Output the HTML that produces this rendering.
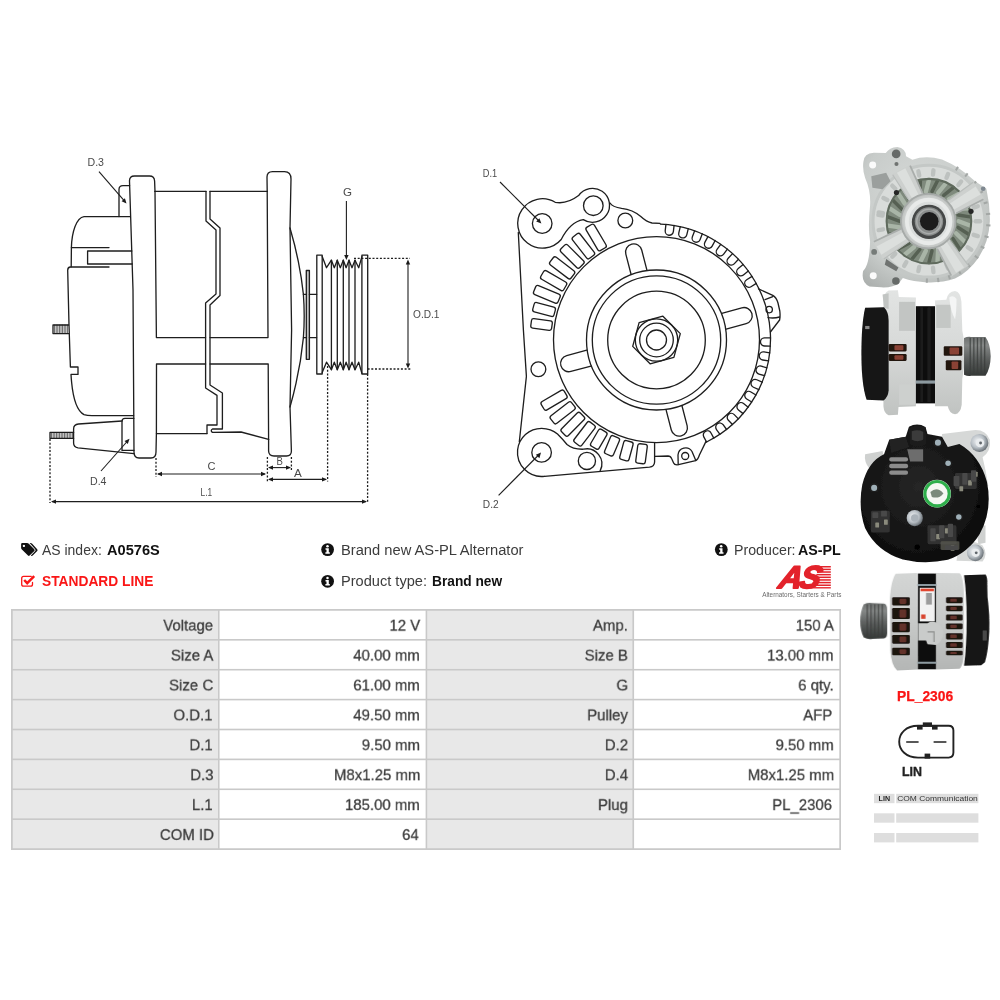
<!DOCTYPE html>
<html lang="en">
<head>
<meta charset="utf-8">
<title>A0576S - Brand new AS-PL Alternator</title>
<style>
html,body{margin:0;padding:0;background:#fff;}
body{width:1000px;height:1000px;position:relative;overflow:hidden;font-family:"Liberation Sans",sans-serif;color:#333;}
.abs{position:absolute;white-space:nowrap;line-height:1;will-change:transform;}
.abs span{display:inline-block;transform-origin:0 50%;}
svg.draw{position:absolute;left:0;top:0;width:1000px;height:1000px;will-change:transform;}
.tw{position:absolute;left:11.37px;top:608.87px;width:999px;height:290px;transform:scale(0.8308);transform-origin:0 0;will-change:transform;}
table.spec{border-collapse:collapse;table-layout:fixed;width:997px;font-size:17.8px;box-sizing:border-box;}
table.spec td{box-sizing:border-box;border:2px solid #c9c9c9;height:36px;padding:4.7px 7.4px 0 0;text-align:right;color:#3c3c3c;-webkit-text-stroke:0.3px #3c3c3c;line-height:1;white-space:nowrap;overflow:hidden;}
table.spec td.l{background:#e8e8e8;}
table.spec td.v{background:#fff;}
table.spec td span{display:inline-block;transform:scaleX(1.012);transform-origin:100% 50%;}
.hd{font-size:15px;color:#3a3a3a;}
.hd b{color:#111;}
.red{color:#f01818;font-weight:bold;}
</style>
</head>
<body>
<svg class="draw" viewBox="0 0 1000 1000" width="1000" height="1000">
<g id="side-view">
<g fill="none" stroke="#1e1e1e" stroke-width="1.32" stroke-linejoin="round" stroke-linecap="round">
<path d="M155 191.4 L154.6 181 Q154.4 176 149.5 176 L134.5 176 Q129.4 176 129.5 181 L133 290 L134 452 Q134 458 139 458 L151 458 Q156 458 156 452 L156.4 433.6"/>
<path d="M119 216.6 L119 189.5 Q119 185.6 123 185.6 L129.6 185.6"/>
<path d="M130.4 216.6 L84 216.6 C76.5 217.5 71.8 232 71.4 247.6 L71.2 266.8"/>
<path d="M71.4 247.6 L109 247.6"/>
<path d="M131.8 251 L87.6 251 L87.6 264 L132.2 264"/>
<path d="M109 267 L70.5 267 Q67.6 267.2 67.7 270.5 L69 325 L70.4 367 L78 367 L78 374.4 L71 374.4 C72 392 75 410 84 414.6 Q87 415.6 92 415.6 L133.6 415.6"/>
<path d="M68.6 325 L53 325 L53 333.6 L68.8 333.6"/>
<path d="M54.6 325V333.6M56.2 325V333.6M57.8 325V333.6M59.4 325V333.6M61 325V333.6M62.6 325V333.6M64.2 325V333.6M65.8 325V333.6M67.4 325V333.6" stroke-width="0.7"/>
<path d="M133.8 418.4 L125 418.4 Q122 418.4 122 421.5 L122 450.4 L134 450.4"/>
<path d="M122 421 L78.5 424 Q73.6 424.4 73.6 429 L73.6 443 Q73.6 447.2 78 447.8 L134 453.6"/>
<path d="M73.6 432.4 L50 432.4 L50 438.4 L73.6 438.4"/>
<path d="M51.6 432.4V438.4M53.2 432.4V438.4M54.8 432.4V438.4M56.4 432.4V438.4M58 432.4V438.4M59.6 432.4V438.4M61.2 432.4V438.4M62.8 432.4V438.4M64.4 432.4V438.4M66 432.4V438.4M67.6 432.4V438.4M69.2 432.4V438.4M70.8 432.4V438.4M72.4 432.4V438.4" stroke-width="0.7"/>
<path d="M155 191.4 L206 191.4"/>
<path d="M210 191.4 L267.2 191.4"/>
<path d="M155 191.4 L156.4 337.6 L205.6 337.6"/>
<path d="M210 337.6 L268 337.6 L267.2 191.4"/>
<path d="M205.6 364 L156.5 364 L156.4 433.6 L207 433.6"/>
<path d="M210 364 L268.2 364 L268.6 439.4"/>
<path d="M206 191.4 L206 221 L216 230 L216 294 L205.6 303 L205.6 388 L217 395.4 L217 425 L207 425 L207 433.6"/>
<path d="M210 191.4 L210 219 L220 228 L220 295.4 L210 305 L210 385 L222.4 393 L222.4 429 L212.5 429 Q210 430.6 212.5 432.4 L241 432 L268.6 439.4"/>
<path d="M268.6 439.4 L268.6 451 Q268.8 456 274 456 L286.5 456 Q291.4 456 291.4 451 L290 407 L291.6 330 L290 228 L291 179 Q291 171.6 284.5 171.6 L272.5 171.6 Q267 171.6 267 177 L267.2 191.4"/>
<path d="M290 228 Q300 262 303.4 294.4 Q305 316 303.4 337.6 Q300 372 290 407"/>
<rect x="306.3" y="270.5" width="3.1" height="88.8" fill="#c4c4c4"/>
<path d="M303.4 294.4 L306.4 294.4 M309.4 294.4 L316.6 294.4 M303.4 337.6 L306.4 337.6 M309.4 337.6 L316.6 337.6"/>
<path d="M322.2 255.2 L316.8 255.2 L316.8 374 L322.2 374 Z"/>
<path d="M361.9 255.2 L367.7 255.2 L367.7 374 L361.9 374 Z"/>
<path d="M322.2 256.6 L326.5 267.7 L331.4 260.2 L334.3 267.7 L337.3 260.2 L340.3 267.7 L343.3 260.2 L346.1 267.7 L349.0 260.2 L352.0 267.7 L355.0 260.2 L358.7 267.7 L361.9 256.6"/>
<path d="M322.2 372.4 L326.5 362.2 L331.4 369.7 L334.3 362.2 L337.3 369.7 L340.3 362.2 L343.3 369.7 L346.1 362.2 L349.0 369.7 L352.0 362.2 L355.0 369.7 L358.7 362.2 L361.9 373.4"/>
<path d="M331.4 260.2 L331.4 369.7"/>
<path d="M337.3 260.2 L337.3 369.7"/>
<path d="M343.3 260.2 L343.3 369.7"/>
<path d="M349.0 260.2 L349.0 369.7"/>
<path d="M355.0 260.2 L355.0 369.7"/>
</g>
<g fill="none" stroke="#1e1e1e" stroke-width="1.3" stroke-dasharray="2 1.7">
<path d="M50 439 V503"/>
<path d="M156 458 V477"/>
<path d="M267.4 457 V481.5"/>
<path d="M291.4 457 V470"/>
<path d="M327.6 366 V481.5"/>
<path d="M367.6 374 V503.5"/>
<path d="M354 258.4 H410"/>
<path d="M367.6 369 H411"/>
</g>
<g fill="none" stroke="#1e1e1e" stroke-width="1.1">
<path d="M52 501.6 H366"/>
<path d="M158 474 H265"/>
<path d="M269 467.6 H290"/>
<path d="M269 479.4 H326"/>
<path d="M408 262 V366"/>
<path d="M346.4 201 V256"/>
<path d="M99 171.6 L125 201.6"/>
<path d="M101 471 L128 440.5"/>
</g>
<g fill="#1a1a1a" stroke="none">
<path d="M51.0 501.6 L56.0 499.4 L56.0 503.8 Z"/>
<path d="M367.0 501.6 L362.0 503.8 L362.0 499.4 Z"/>
<path d="M157.0 474.0 L162.0 471.8 L162.0 476.2 Z"/>
<path d="M266.0 474.0 L261.0 476.2 L261.0 471.8 Z"/>
<path d="M268.0 467.6 L273.0 465.4 L273.0 469.8 Z"/>
<path d="M291.0 467.6 L286.0 469.8 L286.0 465.4 Z"/>
<path d="M268.0 479.4 L273.0 477.2 L273.0 481.6 Z"/>
<path d="M327.0 479.4 L322.0 481.6 L322.0 477.2 Z"/>
<path d="M408.0 259.5 L410.2 264.5 L405.8 264.5 Z"/>
<path d="M408.0 368.5 L405.8 363.5 L410.2 363.5 Z"/>
<path d="M346.4 260.0 L344.2 255.0 L348.6 255.0 Z"/>
<path d="M126.5 203.5 L121.6 201.2 L124.9 198.3 Z"/>
<path d="M129.5 438.8 L127.8 444.0 L124.5 441.1 Z"/>
</g>
<g font-family="'Liberation Sans', sans-serif" font-size="11.4" fill="#4a4a4a">
<text x="87.5" y="166.2" textLength="16.5" lengthAdjust="spacingAndGlyphs">D.3</text>
<text x="90" y="485.2" textLength="16.5" lengthAdjust="spacingAndGlyphs">D.4</text>
<text x="343" y="195.6" textLength="9" lengthAdjust="spacingAndGlyphs">G</text>
<text x="413" y="317.8" textLength="26.5" lengthAdjust="spacingAndGlyphs">O.D.1</text>
<text x="207.5" y="470.4" textLength="8" lengthAdjust="spacingAndGlyphs">C</text>
<text x="276.4" y="465.2" textLength="6.4" lengthAdjust="spacingAndGlyphs">B</text>
<text x="294" y="477" textLength="7.8" lengthAdjust="spacingAndGlyphs">A</text>
<text x="200.6" y="495.6" textLength="11.6" lengthAdjust="spacingAndGlyphs">L.1</text>
</g>
</g>
<g id="front-view">
<g fill="none" stroke="#1e1e1e" stroke-width="1.32" stroke-linejoin="round" stroke-linecap="round">
<circle cx="656.5" cy="340.0" r="10"/>
<circle cx="656.5" cy="340.0" r="16.8"/>
<circle cx="656.5" cy="340.0" r="21.2"/>
<circle cx="656.5" cy="340.0" r="48.8"/>
<circle cx="656.5" cy="340.0" r="64.2"/>
<circle cx="656.5" cy="340.0" r="70"/>
<circle cx="656.5" cy="339.7" r="103"/>
<path d="M662.9 316.2 L680.3 333.6 L673.9 357.4 L650.1 363.8 L632.7 346.4 L639.1 322.6 Z"/>
<path d="M70.0 -8.2 L90.8 -8.2 A8.2 8.2 0 0 1 90.8 8.2 L70.0 8.2" transform="translate(656.5 340.0) rotate(-15.5)"/>
<path d="M70.0 -8.2 L90.8 -8.2 A8.2 8.2 0 0 1 90.8 8.2 L70.0 8.2" transform="translate(656.5 340.0) rotate(-104.5)"/>
<path d="M70.0 -8.2 L90.8 -8.2 A8.2 8.2 0 0 1 90.8 8.2 L70.0 8.2" transform="translate(656.5 340.0) rotate(165.0)"/>
<path d="M70.0 -8.2 L90.8 -8.2 A8.2 8.2 0 0 1 90.8 8.2 L70.0 8.2" transform="translate(656.5 340.0) rotate(75.5)"/>
<rect x="105.5" y="-4.8" width="21.0" height="9.6" rx="2.2" ry="2.2" transform="translate(656.5 340.0) rotate(187.7)"/>
<rect x="105.5" y="-4.8" width="22.0" height="9.6" rx="2.2" ry="2.2" transform="translate(656.5 340.0) rotate(195.2)"/>
<rect x="105.5" y="-4.8" width="26.5" height="9.6" rx="2.2" ry="2.2" transform="translate(656.5 340.0) rotate(202.6)"/>
<rect x="105.5" y="-4.8" width="26.5" height="9.6" rx="2.2" ry="2.2" transform="translate(656.5 340.0) rotate(210.0)"/>
<rect x="105.5" y="-4.8" width="26.5" height="9.6" rx="2.2" ry="2.2" transform="translate(656.5 340.0) rotate(217.4)"/>
<rect x="105.5" y="-4.8" width="26.5" height="9.6" rx="2.2" ry="2.2" transform="translate(656.5 340.0) rotate(224.8)"/>
<rect x="105.5" y="-4.8" width="27.0" height="9.6" rx="2.2" ry="2.2" transform="translate(656.5 340.0) rotate(232.1)"/>
<rect x="105.5" y="-4.8" width="27.0" height="9.6" rx="2.2" ry="2.2" transform="translate(656.5 340.0) rotate(239.5)"/>
<rect x="105.5" y="-4.8" width="26.5" height="9.6" rx="2.2" ry="2.2" transform="translate(656.5 340.0) rotate(149.6)"/>
<rect x="105.5" y="-4.8" width="26.5" height="9.6" rx="2.2" ry="2.2" transform="translate(656.5 340.0) rotate(142.2)"/>
<rect x="105.5" y="-4.8" width="26.5" height="9.6" rx="2.2" ry="2.2" transform="translate(656.5 340.0) rotate(134.8)"/>
<rect x="105.5" y="-4.8" width="25.5" height="9.6" rx="2.2" ry="2.2" transform="translate(656.5 340.0) rotate(127.5)"/>
<rect x="105.0" y="-4.8" width="19.5" height="9.6" rx="2.2" ry="2.2" transform="translate(656.5 340.0) rotate(120.2)"/>
<rect x="105.0" y="-4.8" width="19.5" height="9.6" rx="2.2" ry="2.2" transform="translate(656.5 340.0) rotate(112.8)"/>
<rect x="105.0" y="-4.8" width="19.5" height="9.6" rx="2.2" ry="2.2" transform="translate(656.5 340.0) rotate(105.2)"/>
<rect x="105.0" y="-4.8" width="19.5" height="9.6" rx="2.2" ry="2.2" transform="translate(656.5 340.0) rotate(97.5)"/>
<path d="M115.9 -4.1 L109.6 -4.1 A4.1 4.1 0 0 0 109.6 4.1 L115.9 4.1" transform="translate(656.5 340.0) rotate(-83.3)"/>
<path d="M115.7 -4.1 L109.4 -4.1 A4.1 4.1 0 0 0 109.4 4.1 L115.7 4.1" transform="translate(656.5 340.0) rotate(-76.1)"/>
<path d="M115.6 -4.1 L109.3 -4.1 A4.1 4.1 0 0 0 109.3 4.1 L115.6 4.1" transform="translate(656.5 340.0) rotate(-68.7)"/>
<path d="M115.4 -4.1 L109.1 -4.1 A4.1 4.1 0 0 0 109.1 4.1 L115.4 4.1" transform="translate(656.5 340.0) rotate(-61.5)"/>
<path d="M115.2 -4.1 L108.9 -4.1 A4.1 4.1 0 0 0 108.9 4.1 L115.2 4.1" transform="translate(656.5 340.0) rotate(-54.1)"/>
<path d="M115.0 -4.1 L108.7 -4.1 A4.1 4.1 0 0 0 108.7 4.1 L115.0 4.1" transform="translate(656.5 340.0) rotate(-46.6)"/>
<path d="M114.8 -4.1 L108.5 -4.1 A4.1 4.1 0 0 0 108.5 4.1 L114.8 4.1" transform="translate(656.5 340.0) rotate(-39.0)"/>
<path d="M114.7 -4.1 L108.4 -4.1 A4.1 4.1 0 0 0 108.4 4.1 L114.7 4.1" transform="translate(656.5 340.0) rotate(-31.6)"/>
<path d="M114.0 -4.1 L108.1 -4.1 A4.1 4.1 0 0 0 108.1 4.1 L114.0 4.1" transform="translate(656.5 340.0) rotate(1.0)"/>
<path d="M113.9 -4.1 L108.0 -4.1 A4.1 4.1 0 0 0 108.0 4.1 L113.9 4.1" transform="translate(656.5 340.0) rotate(8.5)"/>
<path d="M113.8 -4.1 L107.9 -4.1 A4.1 4.1 0 0 0 107.9 4.1 L113.8 4.1" transform="translate(656.5 340.0) rotate(16.2)"/>
<path d="M113.7 -4.1 L107.8 -4.1 A4.1 4.1 0 0 0 107.8 4.1 L113.7 4.1" transform="translate(656.5 340.0) rotate(23.8)"/>
<path d="M113.6 -4.1 L107.7 -4.1 A4.1 4.1 0 0 0 107.7 4.1 L113.6 4.1" transform="translate(656.5 340.0) rotate(31.0)"/>
<path d="M113.6 -4.1 L107.7 -4.1 A4.1 4.1 0 0 0 107.7 4.1 L113.6 4.1" transform="translate(656.5 340.0) rotate(38.3)"/>
<path d="M113.6 -4.1 L107.7 -4.1 A4.1 4.1 0 0 0 107.7 4.1 L113.6 4.1" transform="translate(656.5 340.0) rotate(46.0)"/>
<path d="M113.6 -4.1 L107.7 -4.1 A4.1 4.1 0 0 0 107.7 4.1 L113.6 4.1" transform="translate(656.5 340.0) rotate(54.0)"/>
<path d="M113.6 -4.1 L107.7 -4.1 A4.1 4.1 0 0 0 107.7 4.1 L113.6 4.1" transform="translate(656.5 340.0) rotate(61.8)"/>
<path d="M660.5 224.1 A115.0 115.0 0 0 1 758.7 288.2 A115.0 115.0 0 0 1 770.3 332.2 A115.0 115.0 0 0 1 706.6 442.0"/>
<path d="M758.4 288.8 L772.8 295.4 Q776.4 297.5 778 303 L779.8 311 Q780.4 316 779.6 320 L770.4 332"/>
<path d="M765 299.6 L772.8 296.6"/>
<path d="M768 317.6 Q774 318.6 779.6 317"/>
<circle cx="769.2" cy="309.6" r="3.2"/>
<path d="M706 441.4 L699.4 455 Q698 459.6 695.6 460.6 L678.5 464.7 Q674.5 465.3 673.6 463 L671.6 458.6 Q670.6 456 668 456 L654.8 456.4"/>
<path d="M678.2 464.6 L678 455 A7.6 7.6 0 0 1 692 451.5 L695.8 460.6"/>
<circle cx="685.2" cy="456" r="3.5"/>
<path d="M654.6 442.8 L654.6 462 Q654.4 466.6 649.5 467.2 L544.5 476.3"/>
<path d="M544.5 476.3 A24.1 24.1 0 0 1 517.6 449.9 A24.1 24.1 0 0 1 541.6 428.3 Q551 428.4 557.5 434 Q563 439.5 567 444.5 Q573 449.5 583.5 449.2 A15 15 0 0 1 600.2 470.6"/>
<circle cx="541.6" cy="452.4" r="9.8"/>
<circle cx="586.9" cy="460.9" r="8.6"/>
<path d="M519.3 441.8 L526.4 376.4 L523.4 330 L518.3 232.5"/>
<circle cx="538.4" cy="369.2" r="7.4"/>
<path d="M561.2 239.5 A24.7 24.7 0 1 1 555.2 202.3 Q567 204.5 578.6 195.6 A17 17 0 1 1 583.3 219.6 Q570 222 561.2 239.5"/>
<circle cx="542.2" cy="223.5" r="9.8"/>
<circle cx="593.3" cy="205.7" r="9.8"/>
<circle cx="625.3" cy="220.5" r="7.4"/>
<path d="M610 203 Q612.5 207 621.6 208.4 Q632.8 209.6 640.8 216.6 Q646.5 222 652 223 L660 223.4"/>
</g>
<g fill="none" stroke="#1e1e1e" stroke-width="1.1"><path d="M500 182 L539.5 221.5"/><path d="M498.6 495.4 L538.6 455"/></g>
<g fill="#1a1a1a"><path d="M541.4 223.4 L536.2 221.4 L539.4 218.2 Z"/><path d="M541 452.6 L539.4 458.2 L535.8 454.8 Z"/></g>
<g font-family="'Liberation Sans', sans-serif" font-size="11.4" fill="#4a4a4a">
<text x="482.8" y="176.6" textLength="14.4" lengthAdjust="spacingAndGlyphs">D.1</text>
<text x="482.8" y="508" textLength="15.8" lengthAdjust="spacingAndGlyphs">D.2</text>
</g>
</g>
<g id="photos">
<defs>
<filter id="pb" x="-5%" y="-5%" width="110%" height="110%"><feGaussianBlur stdDeviation="3.2"/></filter>
<filter id="pb2" x="-5%" y="-5%" width="110%" height="110%"><feGaussianBlur stdDeviation="6"/></filter>
<radialGradient id="gBody" cx="0.45" cy="0.4" r="0.7"><stop offset="0" stop-color="#d9dcda"/><stop offset="0.7" stop-color="#c8ccca"/><stop offset="1" stop-color="#adb1af"/></radialGradient>
<radialGradient id="gHub" cx="0.5" cy="0.5" r="0.5"><stop offset="0" stop-color="#c9cccb"/><stop offset="0.75" stop-color="#dcdfde"/><stop offset="1" stop-color="#b9bcba"/></radialGradient>
<radialGradient id="gBlk" cx="0.45" cy="0.45" r="0.6"><stop offset="0" stop-color="#262626"/><stop offset="1" stop-color="#0c0c0c"/></radialGradient>
<linearGradient id="gPul" x1="0" y1="0" x2="0" y2="1"><stop offset="0" stop-color="#6c6f6e"/><stop offset="0.22" stop-color="#858887"/><stop offset="0.6" stop-color="#585b5a"/><stop offset="1" stop-color="#343736"/></linearGradient>
<linearGradient id="gSide" x1="0" y1="0" x2="0" y2="1"><stop offset="0" stop-color="#e2e4e3"/><stop offset="0.5" stop-color="#d6d8d7"/><stop offset="1" stop-color="#c0c3c1"/></linearGradient>
<linearGradient id="gSide2" x1="0" y1="0" x2="0" y2="1"><stop offset="0" stop-color="#d4d6d5"/><stop offset="0.5" stop-color="#c8cac9"/><stop offset="1" stop-color="#b4b6b5"/></linearGradient>
<radialGradient id="gBolt" cx="0.4" cy="0.4" r="0.6"><stop offset="0" stop-color="#f0f2f4"/><stop offset="0.6" stop-color="#b9c0c6"/><stop offset="1" stop-color="#6f767c"/></radialGradient>
</defs>
<clipPath id="cp1"><rect x="0" y="0" width="1000" height="1020"/></clipPath>
<g id="photo-front" transform="translate(855 140) scale(0.145)" filter="url(#pb)"><g clip-path="url(#cp1)">
<path fill="url(#gBody)" d="M58 150 Q62 92 130 88 L212 90 Q236 52 292 48 Q350 56 352 112 L396 136 Q486 104 600 134 Q722 184 828 284 L906 336 Q932 448 930 560 Q924 700 852 812 Q782 912 690 956 Q600 986 500 982 Q400 978 330 952 L304 986 Q262 1020 180 1016 L100 1010 Q40 980 56 904 Q100 862 104 702 Q88 600 104 452 Q110 352 70 262 Q50 204 58 150 Z"/>
<path d="M687 226 L710 185" stroke="#a3a7a5" stroke-width="14"/>
<path d="M748 266 L777 230" stroke="#a3a7a5" stroke-width="14"/>
<path d="M800 317 L836 287" stroke="#a3a7a5" stroke-width="14"/>
<path d="M841 377 L882 354" stroke="#a3a7a5" stroke-width="14"/>
<path d="M869 443 L914 429" stroke="#a3a7a5" stroke-width="14"/>
<path d="M885 514 L932 508" stroke="#a3a7a5" stroke-width="14"/>
<path d="M887 586 L934 590" stroke="#a3a7a5" stroke-width="14"/>
<path d="M875 658 L921 670" stroke="#a3a7a5" stroke-width="14"/>
<path d="M850 726 L892 746" stroke="#a3a7a5" stroke-width="14"/>
<path d="M812 787 L849 816" stroke="#a3a7a5" stroke-width="14"/>
<path d="M763 841 L794 876" stroke="#a3a7a5" stroke-width="14"/>
<path d="M705 884 L729 924" stroke="#a3a7a5" stroke-width="14"/>
<path d="M639 915 L655 959" stroke="#a3a7a5" stroke-width="14"/>
<path d="M569 933 L576 980" stroke="#a3a7a5" stroke-width="14"/>
<path d="M497 938 L495 985" stroke="#a3a7a5" stroke-width="14"/>
<circle cx="510" cy="560" r="385" fill="none" stroke="#c4c8c6" stroke-width="22"/>
<circle cx="510" cy="560" r="335" fill="none" stroke="#d9dcda" stroke-width="80"/>
<path d="M193 504 L163 499" stroke="#bdc1bf" stroke-width="30" stroke-linecap="round"/>
<path d="M223 414 L196 400" stroke="#bdc1bf" stroke-width="30" stroke-linecap="round"/>
<path d="M278 336 L257 315" stroke="#bdc1bf" stroke-width="30" stroke-linecap="round"/>
<path d="M354 278 L339 252" stroke="#bdc1bf" stroke-width="30" stroke-linecap="round"/>
<path d="M443 245 L437 216" stroke="#bdc1bf" stroke-width="30" stroke-linecap="round"/>
<path d="M538 239 L541 209" stroke="#bdc1bf" stroke-width="30" stroke-linecap="round"/>
<path d="M631 261 L642 234" stroke="#bdc1bf" stroke-width="30" stroke-linecap="round"/>
<path d="M713 310 L732 286" stroke="#bdc1bf" stroke-width="30" stroke-linecap="round"/>
<path d="M777 380 L802 363" stroke="#bdc1bf" stroke-width="30" stroke-linecap="round"/>
<path d="M818 466 L847 457" stroke="#bdc1bf" stroke-width="30" stroke-linecap="round"/>
<path d="M832 560 L862 560" stroke="#bdc1bf" stroke-width="30" stroke-linecap="round"/>
<path d="M818 654 L847 663" stroke="#bdc1bf" stroke-width="30" stroke-linecap="round"/>
<path d="M777 740 L802 757" stroke="#bdc1bf" stroke-width="30" stroke-linecap="round"/>
<path d="M713 810 L732 834" stroke="#bdc1bf" stroke-width="30" stroke-linecap="round"/>
<path d="M631 859 L642 886" stroke="#bdc1bf" stroke-width="30" stroke-linecap="round"/>
<path d="M538 881 L541 911" stroke="#bdc1bf" stroke-width="30" stroke-linecap="round"/>
<path d="M443 875 L437 904" stroke="#bdc1bf" stroke-width="30" stroke-linecap="round"/>
<path d="M354 842 L339 868" stroke="#bdc1bf" stroke-width="30" stroke-linecap="round"/>
<path d="M278 784 L257 805" stroke="#bdc1bf" stroke-width="30" stroke-linecap="round"/>
<path d="M223 706 L196 720" stroke="#bdc1bf" stroke-width="30" stroke-linecap="round"/>
<path d="M193 616 L163 621" stroke="#bdc1bf" stroke-width="30" stroke-linecap="round"/>
<path d="M190 521 L161 517" stroke="#bdc1bf" stroke-width="30" stroke-linecap="round"/>
<path fill="#9b9f9d" d="M112 250 L215 225 L245 285 L190 340 L120 330 Z"/>
<path fill="#6f7371" d="M215 820 L300 880 L285 905 L205 860 Z"/>
<circle cx="510" cy="560" r="292" fill="#7f8a7d"/>
<path d="M715 560 L793 590" stroke="#a9b5a7" stroke-width="30" stroke-linecap="round"/>
<path d="M711 603 L781 648" stroke="#566152" stroke-width="24" stroke-linecap="round"/>
<path d="M697 643 L757 702" stroke="#a9b5a7" stroke-width="30" stroke-linecap="round"/>
<path d="M676 680 L722 751" stroke="#566152" stroke-width="24" stroke-linecap="round"/>
<path d="M647 712 L678 791" stroke="#a9b5a7" stroke-width="30" stroke-linecap="round"/>
<path d="M612 738 L626 820" stroke="#566152" stroke-width="24" stroke-linecap="round"/>
<path d="M573 755 L569 839" stroke="#a9b5a7" stroke-width="30" stroke-linecap="round"/>
<path d="M531 764 L510 845" stroke="#566152" stroke-width="24" stroke-linecap="round"/>
<path d="M489 764 L451 839" stroke="#a9b5a7" stroke-width="30" stroke-linecap="round"/>
<path d="M447 755 L394 820" stroke="#566152" stroke-width="24" stroke-linecap="round"/>
<path d="M408 738 L342 791" stroke="#a9b5a7" stroke-width="30" stroke-linecap="round"/>
<path d="M373 712 L298 751" stroke="#566152" stroke-width="24" stroke-linecap="round"/>
<path d="M344 680 L263 702" stroke="#a9b5a7" stroke-width="30" stroke-linecap="round"/>
<path d="M323 643 L239 648" stroke="#566152" stroke-width="24" stroke-linecap="round"/>
<path d="M309 603 L227 590" stroke="#a9b5a7" stroke-width="30" stroke-linecap="round"/>
<path d="M305 560 L227 530" stroke="#566152" stroke-width="24" stroke-linecap="round"/>
<path d="M309 517 L239 472" stroke="#a9b5a7" stroke-width="30" stroke-linecap="round"/>
<path d="M323 477 L263 418" stroke="#566152" stroke-width="24" stroke-linecap="round"/>
<path d="M344 440 L298 369" stroke="#a9b5a7" stroke-width="30" stroke-linecap="round"/>
<path d="M373 408 L342 329" stroke="#566152" stroke-width="24" stroke-linecap="round"/>
<path d="M407 382 L394 300" stroke="#a9b5a7" stroke-width="30" stroke-linecap="round"/>
<path d="M447 365 L451 281" stroke="#566152" stroke-width="24" stroke-linecap="round"/>
<path d="M489 356 L510 275" stroke="#a9b5a7" stroke-width="30" stroke-linecap="round"/>
<path d="M531 356 L569 281" stroke="#566152" stroke-width="24" stroke-linecap="round"/>
<path d="M573 365 L626 300" stroke="#a9b5a7" stroke-width="30" stroke-linecap="round"/>
<path d="M612 382 L678 329" stroke="#566152" stroke-width="24" stroke-linecap="round"/>
<path d="M647 408 L722 369" stroke="#a9b5a7" stroke-width="30" stroke-linecap="round"/>
<path d="M676 440 L757 417" stroke="#566152" stroke-width="24" stroke-linecap="round"/>
<path d="M697 477 L781 472" stroke="#a9b5a7" stroke-width="30" stroke-linecap="round"/>
<path d="M711 517 L793 530" stroke="#566152" stroke-width="24" stroke-linecap="round"/>
<circle cx="510" cy="560" r="292" fill="none" stroke="#5f6a5d" stroke-width="14"/>
<path fill="#cdd0ce" d="M611 437 L818 288 L892 407 L665 526 Z"/>
<path fill="#dcdfdd" d="M624 459 L832 320 L866 376 L649 500 Z"/>
<path d="M699 505 L886 408" stroke="#a9adab" stroke-width="12"/>
<path d="M645 416 L815 292" stroke="#b9bdbb" stroke-width="8"/>
<path fill="#cdd0ce" d="M634 660 L784 866 L665 941 L545 715 Z"/>
<path fill="#dcdfdd" d="M612 673 L752 880 L697 915 L571 699 Z"/>
<path d="M567 749 L664 935" stroke="#a9adab" stroke-width="12"/>
<path d="M655 694 L780 863" stroke="#b9bdbb" stroke-width="8"/>
<path fill="#cdd0ce" d="M407 680 L195 824 L125 703 L354 591 Z"/>
<path fill="#dcdfdd" d="M393 658 L182 792 L149 735 L369 616 Z"/>
<path d="M320 611 L130 702" stroke="#a9adab" stroke-width="12"/>
<path d="M372 701 L198 820" stroke="#b9bdbb" stroke-width="8"/>
<path fill="#cdd0ce" d="M393 453 L256 237 L380 170 L485 403 Z"/>
<path fill="#dcdfdd" d="M416 440 L289 225 L347 194 L458 417 Z"/>
<path d="M466 368 L380 176" stroke="#a9adab" stroke-width="12"/>
<path d="M374 417 L260 240" stroke="#b9bdbb" stroke-width="8"/>
<circle cx="505" cy="560" r="190" fill="url(#gHub)"/>
<circle cx="505" cy="560" r="188" fill="none" stroke="#a6aaa8" stroke-width="12"/>
<circle cx="508" cy="562" r="150" fill="none" stroke="#e8eae9" stroke-width="26"/>
<circle cx="510" cy="565" r="118" fill="#444746"/>
<circle cx="510" cy="562" r="98" fill="#8b8e8d"/>
<circle cx="510" cy="562" r="84" fill="none" stroke="#a9acab" stroke-width="10"/>
<circle cx="512" cy="560" r="64" fill="#1b1b1d"/>
<circle cx="122" cy="172" r="24" fill="#fbfbfb"/><circle cx="284" cy="96" r="30" fill="#666a68"/><circle cx="286" cy="166" r="14" fill="#6f7371"/>
<circle cx="126" cy="936" r="24" fill="#fbfbfb"/><circle cx="282" cy="972" r="26" fill="#666a68"/>
<circle cx="286" cy="362" r="18" fill="#262827"/><circle cx="800" cy="492" r="18" fill="#262827"/><circle cx="132" cy="772" r="20" fill="#767b79"/><circle cx="884" cy="336" r="16" fill="#7f8890"/>
</g></g>
<g id="photo-side" transform="translate(855 283) scale(0.145)" filter="url(#pb)">
<path fill="url(#gSide)" d="M232 52 L296 50 L302 96 L420 100 L420 850 L300 856 L296 908 L232 912 Q200 900 196 850 L196 120 Q198 70 232 52 Z"/>
<path fill="#c2c5c3" d="M190 80 L232 70 L232 180 L200 170 Z"/>
<path fill="#c2c5c3" d="M304 130 L414 130 L414 330 L304 330 Z"/>
<path fill="#cdd0ce" d="M304 700 L414 700 L414 840 L304 840 Z"/>
<path fill="#141414" d="M70 170 L200 168 Q232 200 232 260 L232 740 Q228 790 196 810 L80 806 Q44 700 44 490 Q44 280 70 170 Z"/>
<rect x="70" y="296" width="30" height="22" fill="#8a8a8a"/>
<rect x="420" y="160" width="132" height="670" fill="#0f0f0f"/>
<rect x="450" y="170" width="20" height="650" fill="#1e1e1e"/><rect x="500" y="170" width="20" height="650" fill="#1e1e1e"/>
<rect x="420" y="672" width="200" height="22" fill="#8d9aa0"/>
<path fill="url(#gSide)" d="M540 120 L630 116 Q640 60 690 56 Q730 64 734 130 L740 330 Q756 400 756 490 Q756 580 740 660 L736 840 Q728 900 690 906 Q650 900 640 850 L552 850 L552 120 Z"/>
<path fill="#c4c7c5" d="M560 150 L660 150 L660 310 L560 310 Z"/>
<path fill="#f4f5f5" d="M650 100 Q680 80 700 110 Q700 200 690 250 Q660 200 650 100 Z"/>
<rect x="232" y="420" width="124" height="52" rx="8" fill="#20130f"/>
<rect x="272" y="429" width="62" height="34" rx="6" fill="#8a4336"/>
<rect x="232" y="490" width="124" height="48" rx="8" fill="#20130f"/>
<rect x="272" y="499" width="62" height="30" rx="6" fill="#8a4336"/>
<rect x="612" y="436" width="128" height="66" rx="8" fill="#20130f"/>
<rect x="652" y="445" width="66" height="48" rx="6" fill="#8a4336"/>
<rect x="626" y="532" width="108" height="70" rx="8" fill="#20130f"/>
<rect x="666" y="541" width="46" height="52" rx="6" fill="#8a4336"/>
<path fill="url(#gPul)" d="M752 380 Q780 366 800 372 L900 372 Q934 420 936 505 Q934 590 900 640 L800 640 Q780 646 752 632 Z"/>
<rect x="790" y="378" width="9" height="256" fill="#3a3c3b" opacity="0.75"/>
<rect x="815" y="378" width="9" height="256" fill="#3a3c3b" opacity="0.75"/>
<rect x="840" y="378" width="9" height="256" fill="#3a3c3b" opacity="0.75"/>
<rect x="865" y="378" width="9" height="256" fill="#3a3c3b" opacity="0.75"/>
<rect x="890" y="378" width="9" height="256" fill="#3a3c3b" opacity="0.75"/>
</g>
<g id="photo-rear" transform="translate(855 418) scale(0.145)" filter="url(#pb)">
<path fill="#d6d8d7" d="M600 110 L800 86 Q900 70 930 150 Q940 230 880 270 L900 360 L920 470 L700 420 L600 200 Z"/>
<path fill="#d6d8d7" d="M720 860 Q800 830 880 880 Q920 940 880 990 L700 985 Z"/>
<path fill="#cfd1d0" d="M70 250 L190 228 L210 320 L100 350 Q60 300 70 250 Z"/>
<path fill="#cfd1d0" d="M840 760 L900 740 L900 860 L850 870 Z"/>
<path fill="url(#gBlk)" d="M236 150 L350 130 L372 60 Q430 30 486 62 L500 110 L600 130 L640 200 L720 180 Q860 260 910 440 Q950 640 860 800 Q780 930 640 978 Q480 1012 330 976 Q150 920 70 760 Q20 620 50 460 Q90 300 200 250 Z"/>
<path fill="#1d1d1d" d="M372 70 Q430 36 486 66 L492 180 Q430 210 380 180 Z"/>
<path fill="#3a3a3a" d="M392 92 Q430 76 470 94 L470 150 Q430 170 392 150 Z"/>
<rect x="236" y="270" width="130" height="30" rx="14" fill="#8c8c8c"/>
<rect x="236" y="316" width="130" height="30" rx="14" fill="#8c8c8c"/>
<rect x="236" y="362" width="130" height="30" rx="14" fill="#8c8c8c"/>
<path fill="#6d6d6d" d="M360 215 L470 215 L470 300 L380 300 Z"/>
<rect x="690" y="380" width="150" height="110" rx="10" fill="#3b3b3b" opacity="0.8"/>
<rect x="500" y="740" width="200" height="130" rx="10" fill="#3a3a3a" opacity="0.8"/>
<rect x="110" y="640" width="130" height="150" rx="10" fill="#3a3a3a" opacity="0.8"/>
<rect x="590" y="850" width="130" height="60" rx="10" fill="#595950" opacity="0.8"/>
<rect x="820" y="370" width="26" height="36" rx="4" fill="#8a8a7c"/>
<rect x="780" y="430" width="26" height="36" rx="4" fill="#8a8a7c"/>
<rect x="720" y="470" width="26" height="36" rx="4" fill="#8a8a7c"/>
<rect x="620" y="760" width="26" height="36" rx="4" fill="#8a8a7c"/>
<rect x="560" y="800" width="26" height="36" rx="4" fill="#8a8a7c"/>
<rect x="660" y="880" width="26" height="36" rx="4" fill="#8a8a7c"/>
<rect x="140" y="720" width="26" height="36" rx="4" fill="#8a8a7c"/>
<rect x="200" y="700" width="26" height="36" rx="4" fill="#8a8a7c"/>
<rect x="680" y="400" width="40" height="70" rx="6" fill="#4a4a4a"/>
<rect x="740" y="380" width="36" height="80" rx="6" fill="#4a4a4a"/>
<rect x="800" y="360" width="36" height="80" rx="6" fill="#4a4a4a"/>
<rect x="520" y="760" width="36" height="90" rx="6" fill="#4a4a4a"/>
<rect x="580" y="740" width="36" height="90" rx="6" fill="#4a4a4a"/>
<rect x="640" y="730" width="36" height="90" rx="6" fill="#4a4a4a"/>
<rect x="120" y="650" width="40" height="40" rx="6" fill="#4a4a4a"/>
<rect x="180" y="640" width="40" height="40" rx="6" fill="#4a4a4a"/>
<rect x="620" y="880" width="90" height="30" rx="6" fill="#4a4a4a"/>
<path d="M236 150 L350 130 L372 200 L250 240 Z" fill="#232323"/>
<circle cx="566" cy="522" r="96" fill="#f4f7f3"/><circle cx="566" cy="522" r="84" fill="none" stroke="#2fae4c" stroke-width="22"/>
<path d="M520 510 Q566 470 610 520 Q580 560 530 545 Z" fill="#7a8a7c"/>
<circle cx="412" cy="690" r="56" fill="url(#gBolt)"/><circle cx="412" cy="690" r="26" fill="#aab2b9"/>
<circle cx="132" cy="482" r="34" fill="#1c1c1c"/><circle cx="132" cy="482" r="21" fill="#9fb0b8"/>
<circle cx="642" cy="312" r="30" fill="#1c1c1c"/><circle cx="642" cy="312" r="19" fill="#9fb0b8"/>
<circle cx="572" cy="170" r="34" fill="#1c1c1c"/><circle cx="572" cy="170" r="21" fill="#9fb0b8"/>
<circle cx="716" cy="682" r="30" fill="#1c1c1c"/><circle cx="716" cy="682" r="19" fill="#9fb0b8"/>
<circle cx="858" cy="172" r="62" fill="url(#gBolt)"/><circle cx="862" cy="172" r="30" fill="#e9ecee"/><circle cx="866" cy="172" r="10" fill="#60666b"/>
<circle cx="830" cy="930" r="58" fill="url(#gBolt)"/><circle cx="832" cy="930" r="28" fill="#e9ecee"/><circle cx="836" cy="930" r="10" fill="#60666b"/>
<circle cx="850" cy="610" r="14" fill="#000"/><circle cx="430" cy="890" r="18" fill="#000"/>
</g>
<g id="photo-side2" transform="translate(855 555) scale(0.145)" filter="url(#pb)">
<path fill="url(#gPul)" d="M60 340 Q90 326 120 332 L200 336 Q222 340 222 380 L222 540 Q220 572 200 574 L120 578 Q90 584 60 568 Q36 520 36 455 Q36 390 60 340 Z"/>
<rect x="80" y="340" width="9" height="232" fill="#3a3c3b" opacity="0.7"/>
<rect x="106" y="340" width="9" height="232" fill="#3a3c3b" opacity="0.7"/>
<rect x="132" y="340" width="9" height="232" fill="#3a3c3b" opacity="0.7"/>
<rect x="158" y="340" width="9" height="232" fill="#3a3c3b" opacity="0.7"/>
<rect x="184" y="340" width="9" height="232" fill="#3a3c3b" opacity="0.7"/>
<path fill="url(#gSide2)" d="M280 130 L430 124 L436 790 L290 796 Q250 760 244 660 L240 300 Q250 170 280 130 Z"/>
<path fill="url(#gSide2)" d="M556 124 L722 126 Q750 150 752 300 L752 640 Q750 760 722 784 L556 790 Z"/>
<rect x="434" y="128" width="124" height="660" fill="#0e0e0e"/>
<rect x="430" y="200" width="130" height="14" fill="#8d9aa0"/><rect x="430" y="736" width="130" height="14" fill="#8d9aa0"/>
<rect x="446" y="226" width="104" height="232" fill="#f2f2f2"/>
<rect x="452" y="232" width="92" height="18" fill="#e2442e"/>
<rect x="490" y="262" width="40" height="80" fill="#9c9c9c"/><rect x="456" y="410" width="30" height="30" fill="#d8452f"/>
<path fill="#c9cbca" d="M436 470 L500 470 Q530 450 570 470 Q610 500 610 540 Q600 600 560 620 L500 615 L490 590 L436 590 Z"/>
<path fill="none" stroke="#8d908e" stroke-width="8" d="M500 530 L545 530 L545 600"/>
<rect x="256" y="292" width="122" height="56" rx="8" fill="#1b1210"/>
<rect x="306" y="302" width="48" height="36" rx="8" fill="#63312a"/>
<rect x="256" y="366" width="122" height="76" rx="8" fill="#1b1210"/>
<rect x="306" y="376" width="48" height="56" rx="8" fill="#63312a"/>
<rect x="256" y="462" width="122" height="70" rx="8" fill="#1b1210"/>
<rect x="306" y="472" width="48" height="50" rx="8" fill="#63312a"/>
<rect x="256" y="552" width="122" height="60" rx="8" fill="#1b1210"/>
<rect x="306" y="562" width="48" height="40" rx="8" fill="#63312a"/>
<rect x="256" y="640" width="122" height="52" rx="8" fill="#1b1210"/>
<rect x="306" y="650" width="48" height="32" rx="8" fill="#63312a"/>
<rect x="628" y="292" width="114" height="40" rx="8" fill="#1b1210"/>
<rect x="656" y="301" width="46" height="22" rx="6" fill="#63312a"/>
<rect x="628" y="350" width="114" height="38" rx="8" fill="#1b1210"/>
<rect x="656" y="359" width="46" height="20" rx="6" fill="#63312a"/>
<rect x="628" y="410" width="114" height="42" rx="8" fill="#1b1210"/>
<rect x="656" y="419" width="46" height="24" rx="6" fill="#63312a"/>
<rect x="628" y="472" width="114" height="40" rx="8" fill="#1b1210"/>
<rect x="656" y="481" width="46" height="22" rx="6" fill="#63312a"/>
<rect x="628" y="540" width="114" height="42" rx="8" fill="#1b1210"/>
<rect x="656" y="549" width="46" height="24" rx="6" fill="#63312a"/>
<rect x="628" y="600" width="114" height="42" rx="8" fill="#1b1210"/>
<rect x="656" y="609" width="46" height="24" rx="6" fill="#63312a"/>
<rect x="628" y="660" width="114" height="32" rx="8" fill="#1b1210"/>
<rect x="656" y="669" width="46" height="14" rx="6" fill="#63312a"/>
<path fill="#121212" d="M752 140 L900 134 Q914 150 912 200 L914 290 Q930 420 926 520 Q920 660 896 740 L870 760 L752 764 Q770 640 770 450 Q770 260 752 140 Z"/>
<rect x="880" y="520" width="30" height="70" fill="#4a4a4a"/>
</g>
</g>
<g id="misc">
<g id="icon-tags" fill="#111">
<path fill-rule="evenodd" d="M21.1 544.2 Q21.1 543 22.3 543 L27 543 Q28 543 28.8 543.8 L34.3 549.3 Q35.1 550.2 34.3 551 L29.6 555.6 Q28.8 556.3 28 555.6 L21.9 549.6 Q21.1 548.8 21.1 547.8 Z M23.9 544.7 a1.15 1.15 0 1 0 0.01 0 Z"/>
<path d="M29.6 543 L30.6 543 Q31.4 543 32.2 543.8 L37.2 549.3 Q38 550.2 37.2 551 L32.7 555.6 Q32 556.3 31.2 555.7 L30.9 555.4 L35.2 551 Q36 550.2 35.2 549.3 Z"/>
</g>
<g id="icon-check" fill="none" stroke="#fa1616" stroke-linecap="round" stroke-linejoin="round">
<path d="M31.2 576.4 L23.6 576.4 Q21.7 576.4 21.7 578.4 L21.7 584.2 Q21.7 586.2 23.6 586.2 L30.6 586.2 Q32.5 586.2 32.5 584.2 L32.5 582.4" stroke-width="1.3"/>
<path d="M24.2 580 L27.2 583.2 L34.2 576.2" stroke-width="2.5" stroke-linecap="butt" stroke-linejoin="miter"/>
</g>
<g><circle cx="327.6" cy="549.6" r="6.4" fill="#111"/><circle cx="327.5" cy="546.3000000000001" r="1.25" fill="#fff"/><path d="M325.5 548.3000000000001 H328.8 V552.2 H329.8 V553.7 H325.40000000000003 V552.2 H326.5 V549.8000000000001 H325.5 Z" fill="#fff"/></g>
<g><circle cx="327.6" cy="581.3" r="6.4" fill="#111"/><circle cx="327.5" cy="578.0" r="1.25" fill="#fff"/><path d="M325.5 580.0 H328.8 V583.9 H329.8 V585.4 H325.40000000000003 V583.9 H326.5 V581.5 H325.5 Z" fill="#fff"/></g>
<g><circle cx="721.3" cy="549.6" r="6.4" fill="#111"/><circle cx="721.1999999999999" cy="546.3000000000001" r="1.25" fill="#fff"/><path d="M719.1999999999999 548.3000000000001 H722.5 V552.2 H723.5 V553.7 H719.0999999999999 V552.2 H720.1999999999999 V549.8000000000001 H719.1999999999999 Z" fill="#fff"/></g>
<g id="as-logo">
<clipPath id="lgc"><path d="M820.6 565.6 H830.8 V588.8 H809.6 Z"/></clipPath>
<g clip-path="url(#lgc)" fill="#e3232b">
<rect x="806" y="566.00" width="26" height="1.5"/>
<rect x="806" y="568.64" width="26" height="1.5"/>
<rect x="806" y="571.28" width="26" height="1.5"/>
<rect x="806" y="573.92" width="26" height="1.5"/>
<rect x="806" y="576.56" width="26" height="1.5"/>
<rect x="806" y="579.20" width="26" height="1.5"/>
<rect x="806" y="581.84" width="26" height="1.5"/>
<rect x="806" y="584.48" width="26" height="1.5"/>
<rect x="806" y="587.12" width="26" height="1.5"/>
</g>
<text x="777.6" y="588.5" font-family="'Liberation Sans', sans-serif" font-weight="bold" font-style="italic" font-size="31.6" fill="#e3232b" stroke="#e3232b" stroke-width="1.8" stroke-linejoin="round" letter-spacing="-2.6" transform="translate(777.6 588.5) skewX(-14) translate(-777.6 -588.5)">AS</text>
<text x="762.2" y="597.3" font-family="'Liberation Sans', sans-serif" font-size="6.5" fill="#6a6a6a" textLength="79.2" lengthAdjust="spacingAndGlyphs">Alternators, Starters &amp; Parts</text>
</g>
<g id="plug-icon">
<path d="M918 725.8 L948.6 725.8 Q953.4 725.8 953.4 730.6 L953.4 752.6 Q953.4 757.6 948.6 757.6 L918 757.6 C906 757.6 899.2 750 899.2 741.7 C899.2 733.4 906 725.8 918 725.8 Z" fill="#fff" stroke="#222" stroke-width="1.9"/>
<rect x="922.8" y="722.4" width="9.2" height="4.4" fill="#222"/>
<rect x="917" y="726" width="5.6" height="3.6" fill="#222"/><rect x="932" y="726" width="5.6" height="3.6" fill="#222"/>
<rect x="924.6" y="753.6" width="5.6" height="5" fill="#222"/>
<path d="M906.2 742.1 H918.6 M933.6 742.1 H946.4" stroke="#222" stroke-width="1.5" fill="none"/>
</g>
<g id="legend" fill="#dedede">
<rect x="874" y="793.8" width="20.5" height="9.4"/><rect x="896.2" y="793.8" width="82.2" height="9.4"/>
<rect x="874" y="813.3" width="20.5" height="9.4"/><rect x="896.2" y="813.3" width="82.2" height="9.4"/>
<rect x="874" y="833.0" width="20.5" height="9.4"/><rect x="896.2" y="833.0" width="82.2" height="9.4"/>
</g>
<g font-family="'Liberation Sans', sans-serif" fill="#333">
<text x="878.6" y="801.2" font-size="6.8" font-weight="bold" fill="#222" textLength="11.4" lengthAdjust="spacingAndGlyphs">LIN</text>
<text x="897.2" y="801.2" font-size="6.9" textLength="80.6" lengthAdjust="spacingAndGlyphs">COM Communication</text>
</g>
</g>
</svg>
<div class="abs " style="left:42.40px;top:541.61px;font-size:15.4px;color:#3c3c3c;"><span style="transform:scaleX(0.9072)">AS index:</span></div>
<div class="abs " style="left:107.40px;top:541.61px;font-size:15.4px;font-weight:bold;color:#111;"><span style="transform:scaleX(0.9487)">A0576S</span></div>
<div class="abs " style="left:42.00px;top:573.97px;font-size:14.5px;font-weight:bold;color:#fa1616;"><span style="transform:scaleX(0.9494)">STANDARD LINE</span></div>
<div class="abs " style="left:340.80px;top:541.61px;font-size:15.4px;color:#3c3c3c;"><span style="transform:scaleX(0.9551)">Brand new AS-PL Alternator</span></div>
<div class="abs " style="left:340.80px;top:573.31px;font-size:15.4px;color:#3c3c3c;"><span style="transform:scaleX(0.9478)">Product type:</span></div>
<div class="abs " style="left:432.40px;top:573.31px;font-size:15.4px;font-weight:bold;color:#111;"><span style="transform:scaleX(0.8917)">Brand new</span></div>
<div class="abs " style="left:733.60px;top:541.71px;font-size:15.4px;color:#3c3c3c;"><span style="transform:scaleX(0.9226)">Producer:</span></div>
<div class="abs " style="left:798.20px;top:541.71px;font-size:15.4px;font-weight:bold;color:#111;"><span style="transform:scaleX(0.9264)">AS-PL</span></div>
<div class="abs " style="left:896.60px;top:689.57px;font-size:13.8px;font-weight:bold;color:#fa1616;-webkit-text-stroke:0.25px #fa1616;"><span style="transform:scaleX(1.0034)">PL_2306</span></div>
<div class="abs " style="left:902.00px;top:766.34px;font-size:12.3px;font-weight:bold;color:#222;-webkit-text-stroke:0.35px #222;"><span style="transform:scaleX(1.0094)">LIN</span></div>
<div class="tw"><table class="spec">
<colgroup><col style="width:249px"><col style="width:250px"><col style="width:249px"><col style="width:249px"></colgroup>
<tr><td class="l" style="padding-right:5.2px"><span>Voltage</span></td><td class="v" style="padding-right:6.6px"><span>12 V</span></td><td class="l" style="padding-right:5.2px"><span>Amp.</span></td><td class="v" style="padding-right:6.6px"><span>150 A</span></td></tr>
<tr><td class="l" style="padding-right:5.2px"><span>Size A</span></td><td class="v" style="padding-right:6.6px"><span>40.00 mm</span></td><td class="l" style="padding-right:5.2px"><span>Size B</span></td><td class="v" style="padding-right:6.6px"><span>13.00 mm</span></td></tr>
<tr><td class="l" style="padding-right:5.2px"><span>Size C</span></td><td class="v" style="padding-right:6.6px"><span>61.00 mm</span></td><td class="l" style="padding-right:5.2px"><span>G</span></td><td class="v" style="padding-right:6.6px"><span>6 qty.</span></td></tr>
<tr><td class="l" style="padding-right:7.0px"><span>O.D.1</span></td><td class="v" style="padding-right:6.6px"><span>49.50 mm</span></td><td class="l" style="padding-right:5.2px"><span>Pulley</span></td><td class="v" style="padding-right:8.4px"><span>AFP</span></td></tr>
<tr><td class="l" style="padding-right:6.4px"><span>D.1</span></td><td class="v" style="padding-right:6.6px"><span>9.50 mm</span></td><td class="l" style="padding-right:5.2px"><span>D.2</span></td><td class="v" style="padding-right:6.6px"><span>9.50 mm</span></td></tr>
<tr><td class="l" style="padding-right:5.2px"><span>D.3</span></td><td class="v" style="padding-right:6.6px"><span>M8x1.25 mm</span></td><td class="l" style="padding-right:5.2px"><span>D.4</span></td><td class="v" style="padding-right:6.6px"><span>M8x1.25 mm</span></td></tr>
<tr><td class="l" style="padding-right:6.4px"><span>L.1</span></td><td class="v" style="padding-right:6.6px"><span>185.00 mm</span></td><td class="l" style="padding-right:5.2px"><span>Plug</span></td><td class="v" style="padding-right:8.4px"><span>PL_2306</span></td></tr>
<tr><td class="l" style="padding-right:5.2px"><span>COM ID</span></td><td class="v" style="padding-right:8.4px"><span>64</span></td><td class="l" style="padding-right:5.2px"></td><td class="v" style="padding-right:6.6px"></td></tr>
</table></div>
</body>
</html>
